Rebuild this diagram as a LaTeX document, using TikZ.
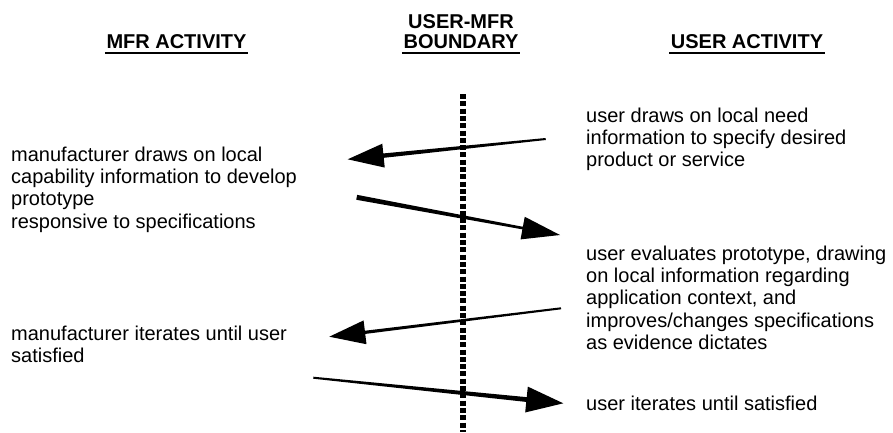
\documentclass[tikz,border=0pt]{standalone}
\usepackage{fontspec}
\setmainfont{Liberation Sans}
\usetikzlibrary{calc}
\newcommand\taperarrow[6]{% start, tip, half width at start, half width at head, head length, head half width
  \coordinate (hb) at ($(#2)!#5!(#1)$);
  \fill ($(#1)!#3!90:(#2)$) -- ($(hb)!#4!90:(#2)$) -- ($(hb)!#6!90:(#2)$) -- (#2)
        -- ($(hb)!#6!-90:(#2)$) -- ($(hb)!#4!-90:(#2)$) -- ($(#1)!#3!-90:(#2)$) -- cycle;
}
\begin{document}
\begin{tikzpicture}[x=1pt,y=-1pt,
  body/.style={anchor=north west, inner sep=0pt, align=left, font=\fontsize{20}{22.3}\selectfont},
  head/.style={inner sep=0pt, anchor=base, font=\bfseries\fontsize{20}{24}\selectfont},
  uline/.style={line width=1.6pt},
  boundary/.style={line width=5.5pt, dash pattern=on 5pt off 2.3pt}]
\useasboundingbox (0,0) rectangle (893,432);

% headings
\node[head] (h1) at (176.5,48) {MFR ACTIVITY};
\node[head] (h2a) at (461,28) {USER-MFR};
\node[head] (h2b) at (461,48) {BOUNDARY};
\node[head] (h3) at (747,48) {USER ACTIVITY};
\foreach \h in {h1,h2b,h3}{
  \draw[uline] ([xshift=-1.5pt,yshift=-5pt]\h.base west) -- ([xshift=1.5pt,yshift=-5pt]\h.base east);
}

% boundary
\coordinate (bt) at (463,94);
\coordinate (bb) at (463,432);
\draw[boundary] (bt) -- (bb);

% texts
\node[body] (r1) at (586,107.6) {user draws on local need\\information to specify desired\\product or service};
\node[body] (r2) at (586,245.6) {user evaluates prototype, drawing\\on local information regarding\\application context, and\\improves/changes specifications\\as evidence dictates};
\node[body] (r3) at (586,395.6) {user iterates until satisfied};
\node[body] (l1) at (11,146.6) {manufacturer draws on local\\capability information to develop\\prototype\\responsive to specifications};
\node[body] (l2) at (11,325.6) {manufacturer iterates until user\\satisfied};

% arrows
\coordinate (a1s) at (545.7,139);
\coordinate (a1t) at (347.7,159.3);
\coordinate (a2s) at (356.7,197.3);
\coordinate (a2t) at (560,235);
\coordinate (a3s) at (561,308.3);
\coordinate (a3t) at (329.3,336.7);
\coordinate (a4s) at (313.3,377.7);
\coordinate (a4t) at (563.3,403.3);
\taperarrow{a1s}{a1t}{1pt}{2.2pt}{36pt}{12pt}
\taperarrow{a2s}{a2t}{2.5pt}{1.3pt}{38pt}{11.5pt}
\taperarrow{a3s}{a3t}{1pt}{1.6pt}{36pt}{12pt}
\taperarrow{a4s}{a4t}{1pt}{2.4pt}{37pt}{13pt}
\end{tikzpicture}
\end{document}
